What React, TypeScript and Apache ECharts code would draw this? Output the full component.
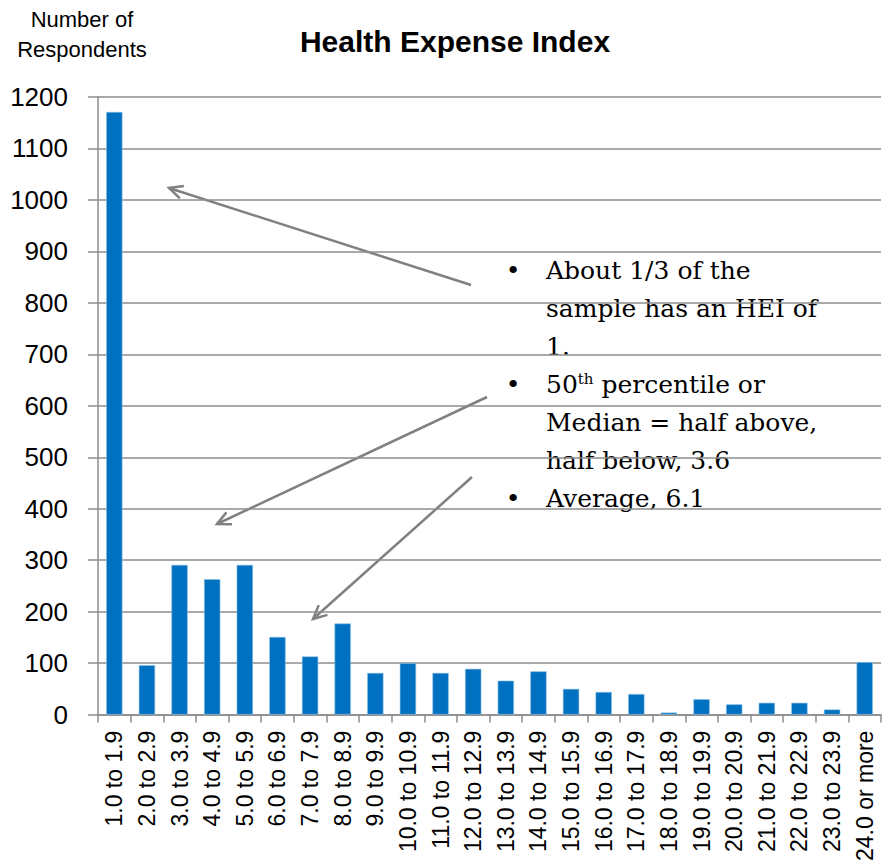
import React, { useEffect, useRef } from "react";
import * as echarts from "echarts";

const categories = [
  "1.0 to 1.9", "2.0 to 2.9", "3.0 to 3.9", "4.0 to 4.9", "5.0 to 5.9", "6.0 to 6.9",
  "7.0 to 7.9", "8.0 to 8.9", "9.0 to 9.9", "10.0 to 10.9", "11.0 to 11.9", "12.0 to 12.9",
  "13.0 to 13.9", "14.0 to 14.9", "15.0 to 15.9", "16.0 to 16.9", "17.0 to 17.9", "18.0 to 18.9",
  "19.0 to 19.9", "20.0 to 20.9", "21.0 to 21.9", "22.0 to 22.9", "23.0 to 23.9", "24.0 or more",
];
const respondents = [
  1171, 96, 291, 263, 291, 151, 113, 177, 81, 100, 81, 89,
  66, 84, 50, 44, 40, 4, 30, 20, 23, 23, 10, 102,
];
const titleText = "Health Expense Index";
const yAxisTitleLines = ["Number of", "Respondents"];
const bulletLines = [
  { bullet: true, text: "About 1/3 of the" },
  { bullet: false, text: "sample has an HEI of" },
  { bullet: false, text: "1." },
  { bullet: true, text: "{n|50}{sup|th}{n| percentile or}" },
  { bullet: false, text: "Median = half above," },
  { bullet: false, text: "half below, 3.6" },
  { bullet: true, text: "Average, 6.1" },
];

const SANS = "'Liberation Sans', Arial, sans-serif";
const SERIF = "'DejaVu Serif', 'Liberation Serif', serif";
const ARROW_COLOR = "#808080";

function arrow(x1: number, y1: number, x2: number, y2: number) {
  const ang = Math.atan2(y1 - y2, x1 - x2);
  const len = 15;
  const spread = 0.45;
  const a = [x2 + len * Math.cos(ang + spread), y2 + len * Math.sin(ang + spread)];
  const b = [x2 + len * Math.cos(ang - spread), y2 + len * Math.sin(ang - spread)];
  return {
    type: "group",
    children: [
      {
        type: "line",
        shape: { x1, y1, x2, y2 },
        style: { stroke: ARROW_COLOR, lineWidth: 2.5 },
      },
      {
        type: "polyline",
        shape: { points: [a, [x2, y2], b] },
        style: { stroke: ARROW_COLOR, lineWidth: 2.5, fill: null },
      },
    ],
  };
}

export default function App() {
  const ref = useRef<HTMLDivElement>(null);
  useEffect(() => {
    if (!ref.current) return;
    const chart = echarts.init(ref.current, null, { renderer: "svg" });
    const textChildren: any[] = [];
    bulletLines.forEach((ln, i) => {
      const cy = 270 + i * 38;
      if (ln.bullet) {
        textChildren.push({
          type: "text",
          x: 513,
          y: cy,
          style: {
            text: "•",
            font: `25px ${SERIF}`,
            fill: "#000",
            align: "center",
            verticalAlign: "middle",
          },
        });
      }
      textChildren.push({
        type: "text",
        x: 546,
        y: cy,
        style: {
          text: ln.text,
          fontFamily: SERIF,
          fontSize: 25,
          fill: "#000",
          align: "left",
          verticalAlign: "middle",
          rich: {
            n: { fontFamily: SERIF, fontSize: 25, fill: "#000" },
            sup: { fontFamily: SERIF, fontSize: 15, fill: "#000", verticalAlign: "top", padding: [0, 0, 10, 0] },
          },
        },
      });
    });

    chart.setOption({
      animation: false,
      backgroundColor: "#fff",
      grid: { left: 98, right: 12, top: 97, bottom: 148, containLabel: false },
      xAxis: {
        type: "category",
        data: categories,
        boundaryGap: true,
        axisLine: { show: true, lineStyle: { color: "#8c8c8c", width: 1.5 } },
        axisTick: { show: true, length: 8, alignWithLabel: false, interval: 0, lineStyle: { color: "#8c8c8c", width: 1.5 } },
        axisLabel: {
          rotate: 90,
          interval: 0,
          margin: 16,
          fontFamily: SANS,
          fontSize: 23,
          color: "#000",
        },
      },
      yAxis: {
        type: "value",
        min: 0,
        max: 1200,
        interval: 100,
        axisLine: { show: true, lineStyle: { color: "#8c8c8c", width: 1.5 } },
        axisTick: { show: true, length: 10, lineStyle: { color: "#8c8c8c", width: 1.5 } },
        splitLine: { show: true, lineStyle: { color: "#8c8c8c", width: 1.5 } },
        axisLabel: {
          margin: 30,
          fontFamily: SANS,
          fontSize: 26,
          color: "#000",
          formatter: (v: number) => String(v),
        },
      },
      series: [
        {
          type: "bar",
          data: respondents,
          barWidth: "50%",
          itemStyle: { color: "#0070C0", borderColor: "#8fc3e6", borderWidth: 0.6 },
        },
      ],
      graphic: [
        {
          type: "text",
          x: 455,
          y: 41,
          style: {
            text: titleText,
            fontFamily: SANS,
            fontWeight: "bold",
            fontSize: 30,
            fill: "#000",
            align: "center",
            verticalAlign: "middle",
          },
        },
        {
          type: "text",
          x: 82,
          y: 19,
          style: {
            text: yAxisTitleLines[0],
            fontFamily: SANS,
            fontSize: 22,
            fill: "#000",
            align: "center",
            verticalAlign: "middle",
          },
        },
        {
          type: "text",
          x: 82,
          y: 49,
          style: {
            text: yAxisTitleLines[1],
            fontFamily: SANS,
            fontSize: 22,
            fill: "#000",
            align: "center",
            verticalAlign: "middle",
          },
        },
        {
          type: "rect",
          shape: { x: 488, y: 238, width: 364, height: 288 },
          style: { fill: "#fff" },
        },
        ...textChildren,
        arrow(471, 285, 169, 188),
        arrow(487, 397, 217, 524),
        arrow(472, 477, 313, 619),
      ],
    });
    return () => chart.dispose();
  }, []);
  return (
    <div
      ref={ref}
      style={{ position: "absolute", left: 0, top: 0, width: 893, height: 864 }}
    />
  );
}
